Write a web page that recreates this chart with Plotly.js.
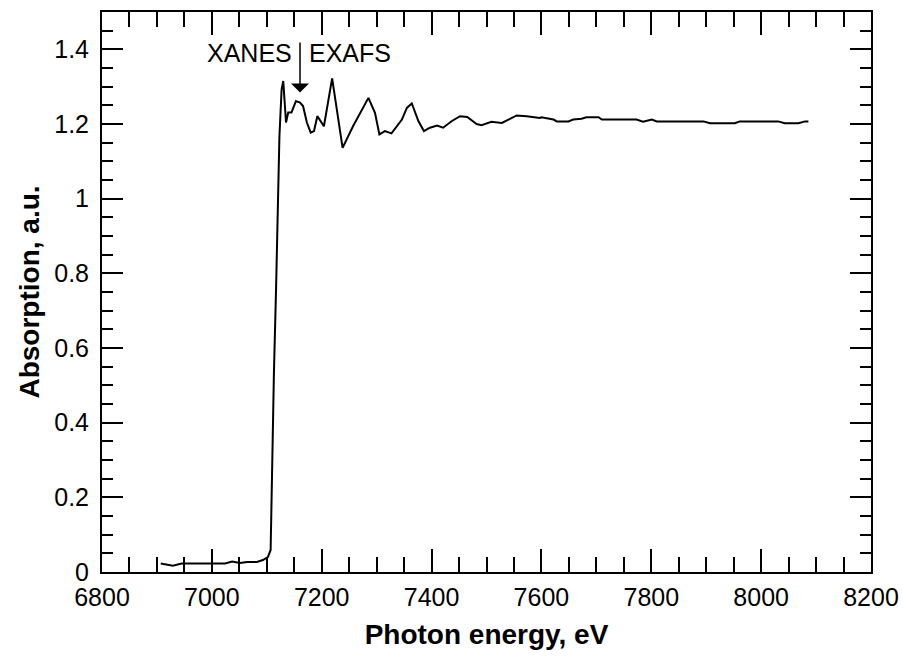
<!DOCTYPE html>
<html>
<head>
<meta charset="utf-8">
<script src="https://cdn.plot.ly/plotly-3.0.1.min.js"></script>
<style>html,body{margin:0;padding:0;background:#fff;}#chart{width:903px;height:657px;}</style>
</head>
<body>
<div id="chart"></div>
<script>
const energy = [6907, 6929, 6945, 7024, 7037, 7051, 7064, 7082, 7093, 7102, 7107, 7109, 7111, 7113, 7117, 7120, 7123, 7127, 7130, 7135, 7139, 7145, 7153, 7160, 7166, 7173, 7180, 7186, 7192, 7204, 7219, 7238, 7257, 7285, 7297, 7305, 7315, 7327, 7346, 7355, 7364, 7376, 7386, 7397, 7410, 7421, 7437, 7452, 7465, 7482, 7491, 7509, 7528, 7540, 7555, 7573, 7597, 7600, 7622, 7628, 7649, 7658, 7673, 7682, 7704, 7710, 7773, 7785, 7801, 7810, 7895, 7907, 7952, 7961, 8031, 8043, 8068, 8080, 8086];
const absorption = [0.023, 0.017, 0.023, 0.023, 0.028, 0.024, 0.027, 0.027, 0.032, 0.040, 0.059, 0.247, 0.426, 0.534, 0.765, 1.006, 1.167, 1.293, 1.315, 1.204, 1.231, 1.231, 1.261, 1.258, 1.248, 1.204, 1.177, 1.181, 1.221, 1.194, 1.322, 1.136, 1.194, 1.270, 1.230, 1.172, 1.181, 1.175, 1.212, 1.243, 1.255, 1.208, 1.181, 1.190, 1.196, 1.190, 1.208, 1.221, 1.219, 1.200, 1.197, 1.206, 1.203, 1.212, 1.223, 1.221, 1.216, 1.218, 1.212, 1.207, 1.207, 1.212, 1.214, 1.218, 1.218, 1.212, 1.212, 1.206, 1.212, 1.207, 1.207, 1.202, 1.202, 1.207, 1.207, 1.202, 1.202, 1.207, 1.207];

const xRange = [6800, 8200];
const yRange = [0, 1.5];
const regionLabels = ["XANES", "EXAFS"];
const regionLabelX = [7068, 7252];
const labelY = 1.39;
const boundaryX = 7160.5;
const arrowTop = 1.422;
const arrowTip = 1.2845;

const FONT = "Arial, 'Liberation Sans', Helvetica, sans-serif";

// the drawn curve (on the labelled axes)
const trace = {
  x: energy, y: absorption, type: 'scatter', mode: 'lines',
  line: {color: '#000', width: 2}, hoverinfo: 'skip', showlegend: false
};
// same series registered (not drawn) on the frame/tick axes so that subplot renders
const frameTrace = {
  x: energy, y: absorption, type: 'scatter', mode: 'lines', xaxis: 'x3', yaxis: 'y3',
  visible: 'legendonly', showlegend: false, hoverinfo: 'skip'
};

const annotations = regionLabels.map((t, i) => ({
  x: regionLabelX[i], y: labelY, xref: 'x', yref: 'y', text: t, showarrow: false,
  font: {family: FONT, size: 25, color: '#000'}, xanchor: 'center', yanchor: 'middle'
}));
annotations.push({
  x: boundaryX, y: arrowTip, xref: 'x', yref: 'y', ax: boundaryX, ay: arrowTop,
  axref: 'x', ayref: 'y', text: '', showarrow: true, arrowhead: 1, arrowsize: 2,
  arrowwidth: 1.5, arrowcolor: '#000', standoff: 0, startstandoff: 0
});

const tickFont = {family: FONT, size: 25, color: '#000'};
const titleFont = {family: FONT, size: 28, color: '#000', weight: 'bold'};

const layout = {
  width: 903, height: 657,
  margin: {l: 102, r: 32, t: 12, b: 85},
  paper_bgcolor: '#fff', plot_bgcolor: 'rgba(0,0,0,0)',
  font: {family: FONT, color: '#000', size: 25},
  showlegend: false,
  xaxis: {
    domain: [0, 1], anchor: 'y',
    range: xRange, dtick: 200, tick0: 6800, tickmode: 'linear',
    ticks: '', showline: false, showgrid: false, zeroline: false,
    tickfont: tickFont, ticklabelstandoff: 8,
    title: {text: 'Photon energy, eV', font: titleFont, standoff: 14}
  },
  yaxis: {
    domain: [0, 1], anchor: 'x',
    range: yRange, dtick: 0.2, tick0: 0, tickmode: 'linear',
    ticks: '', showline: false, showgrid: false, zeroline: false,
    tickfont: tickFont, ticklabelstandoff: 12,
    title: {text: 'Absorption, a.u.', font: titleFont, standoff: 6}
  },
  xaxis3: {
    domain: [0, 1], anchor: 'y3',
    range: xRange, dtick: 200, tick0: 6800, tickmode: 'linear',
    ticks: 'inside', ticklen: 23, tickwidth: 2, tickcolor: '#000',
    minor: {dtick: 50, ticks: 'inside', ticklen: 15, tickwidth: 2, tickcolor: '#000', showgrid: false},
    showline: true, linewidth: 2, linecolor: '#000', mirror: 'allticks',
    showgrid: false, zeroline: false, showticklabels: false
  },
  yaxis3: {
    domain: [0, 1], anchor: 'x3',
    range: yRange, dtick: 0.2, tick0: 0, tickmode: 'linear',
    ticks: 'inside', ticklen: 21, tickwidth: 2, tickcolor: '#000',
    minor: {dtick: 0.05, ticks: 'inside', ticklen: 11, tickwidth: 2, tickcolor: '#000', showgrid: false},
    showline: true, linewidth: 2, linecolor: '#000', mirror: 'allticks',
    showgrid: false, zeroline: false, showticklabels: false
  },
  annotations: annotations
};

Plotly.newPlot('chart', [trace, frameTrace], layout, {displayModeBar: false, staticPlot: true});
</script>
</body>
</html>
